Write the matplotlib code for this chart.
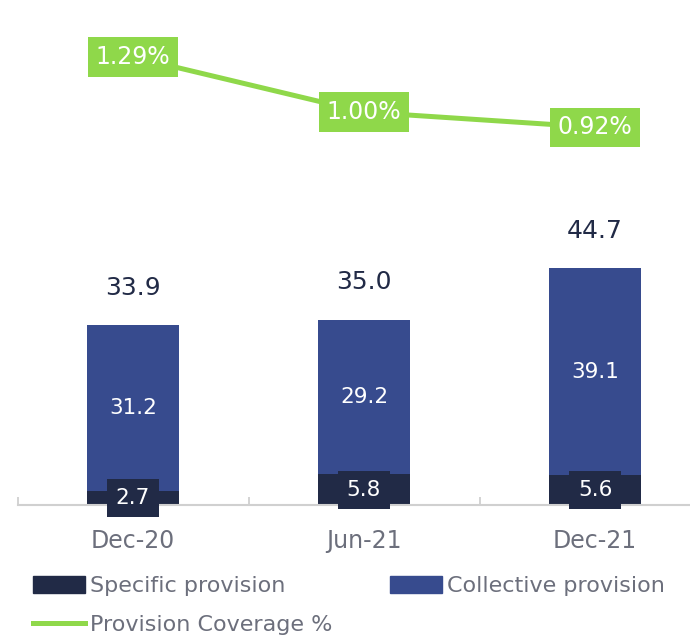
import matplotlib.pyplot as plt
from matplotlib.patches import Patch
from matplotlib.lines import Line2D

plt.rcParams['font.family'] = ['DejaVu Sans']

periods = ['Dec-20', 'Jun-21', 'Dec-21']
specific = [2.7, 5.8, 5.6]
collective = [31.2, 29.2, 39.1]
totals = [33.9, 35.0, 44.7]
coverage = [1.29, 1.00, 0.92]

navy = '#212a46'
blue = '#374b8e'
green = '#8fd84a'
grey_txt = '#6c6f7c'

fig = plt.figure(figsize=(6.9, 6.38), dpi=100)
ax = fig.add_axes([17.5 / 690, 133 / 638, 1 - 17.5 / 690, 505 / 638])

x = range(len(periods))
ax.bar(x, specific, width=0.4, color=navy, zorder=2)
ax.bar(x, collective, width=0.4, bottom=specific, color=blue, zorder=2)

for i in x:
    ax.text(i, specific[i] / 2, f'{specific[i]:.1f}', ha='center', va='center',
            color='white', fontsize=15.5, zorder=4,
            bbox=dict(boxstyle='square,pad=0.42', fc=navy, ec='none'))
    ax.text(i, specific[i] + collective[i] / 2, f'{collective[i]:.1f}',
            ha='center', va='center', color='white', fontsize=15.5, zorder=4)
    ax.annotate(f'{totals[i]:.1f}', (i, totals[i]), xytext=(0, 27),
                textcoords='offset points', ha='center', va='center',
                color=navy, fontsize=18)

ax.set_xlim(-0.5, -0.5 + (690 - 17.5) / 231)
ax.set_ylim(0, 505 / 5.3)
ax.set_xticks(list(x))
ax.set_xticklabels(periods, fontsize=17, color=grey_txt)
ax.set_xticks([-0.5, 0.5, 1.5], minor=True)
ax.tick_params(axis='x', which='major', length=0, pad=17)
ax.tick_params(axis='x', which='minor', direction='in', length=6,
               width=1.3, color='#d0d0d0')
ax.set_yticks([])
for s in ['top', 'right', 'left']:
    ax.spines[s].set_visible(False)
ax.spines['bottom'].set_color('#d0d0d0')
ax.spines['bottom'].set_linewidth(1.5)
ax.patch.set_alpha(0)

# coverage line on its own scale
ax2 = ax.twinx()
ax2.plot(list(x), coverage, color=green, lw=3.6, zorder=3)
for i in x:
    ax2.text(i, coverage[i], f'{coverage[i]:.2f}%', ha='center', va='center',
             color='white', fontsize=17, zorder=5,
             bbox=dict(boxstyle='square,pad=0.33', fc=green, ec='none'))
ax2.set_ylim(1.29 - 448 / 190, 1.29 + 57 / 190)
ax2.set_yticks([])
for s in ax2.spines.values():
    s.set_visible(False)

handles = [Patch(color=navy), Line2D([], [], color=green, lw=3.6),
           Patch(color=blue)]
labels = ['Specific provision', 'Provision Coverage %', 'Collective provision']
fig.legend(handles, labels, ncol=2, loc='upper left',
           bbox_to_anchor=(0.048, 0.097), frameon=False, fontsize=16,
           labelcolor=grey_txt, handlelength=2.35, handleheight=0.8,
           handletextpad=0.2, columnspacing=2.6, labelspacing=0.85,
           borderaxespad=0, borderpad=0)

fig.savefig('out.png')
